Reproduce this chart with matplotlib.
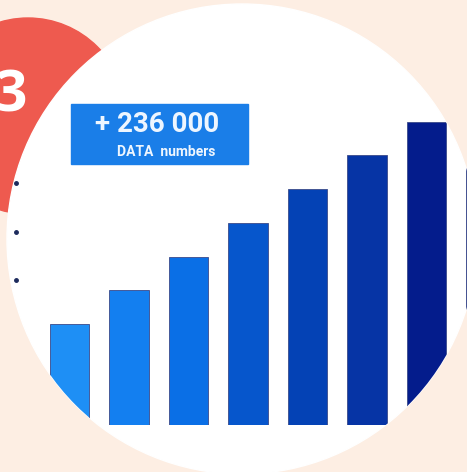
import matplotlib
matplotlib.use("Agg")
import matplotlib.pyplot as plt
from matplotlib.patches import Circle, Rectangle

# bar values (growing steps)
steps = [1, 2, 3, 4, 5, 6, 7, 8]
values = [3, 4, 5, 6, 7, 8, 9, 10]
bar_colors = ["#1e8ff5", "#137ff0", "#0a6fe6", "#0656cc",
              "#0442b5", "#0634a5", "#041c8c", "#0a1a80"]
headline = "+ 236 000"
subline = "DATA  numbers"
badge = "3"

W, H = 467, 472
fig = plt.figure(figsize=(W / 100, H / 100), dpi=100)
fig.patch.set_facecolor("#fdeee3")

# background layer in pixel units
bg = fig.add_axes([0, 0, 1, 1])
bg.set_xlim(0, W)
bg.set_ylim(H, 0)
bg.axis("off")
bg.patch.set_visible(False)

bg.add_patch(Circle((28, 116), 98, color="#ee5a4f", zorder=1))
bg.text(11, 97, badge, color="white", fontsize=41, fontweight="bold",
        family="Open Sans", ha="center", va="center", zorder=2)
white = Circle((242, 239), 235, color="white", zorder=3)
bg.add_patch(white)

# label box
bg.add_patch(Rectangle((71, 104), 177, 60, color="#1a7ee8", zorder=4))
bg.text(157, 125, headline, color="#eef6ff", fontsize=20, fontweight="bold",
        family="Roboto", ha="center", va="center", zorder=5)
bg.text(166, 152, subline, color="#eef6ff", fontsize=10, fontweight="bold",
        family="Roboto", ha="center", va="center", zorder=5)

# small dots on the left
for yy in [183, 232, 280]:
    bg.plot(16, yy, "o", color="#1c2a5c", markersize=2.5, zorder=5)

# bar chart layer
ax = fig.add_axes([39.75 / W, 47 / H, 476 / W, 337 / H])
ax.patch.set_visible(False)
ax.axis("off")
bars = ax.bar(steps, values, width=0.67, color=bar_colors,
              edgecolor="#3a4a8a", linewidth=0.6)
ax.set_xlim(0.5, 8.5)
ax.set_ylim(0, 10)
for b in bars:
    b.set_clip_path(white)

fig.savefig("out.png", dpi=100, facecolor=fig.get_facecolor())
